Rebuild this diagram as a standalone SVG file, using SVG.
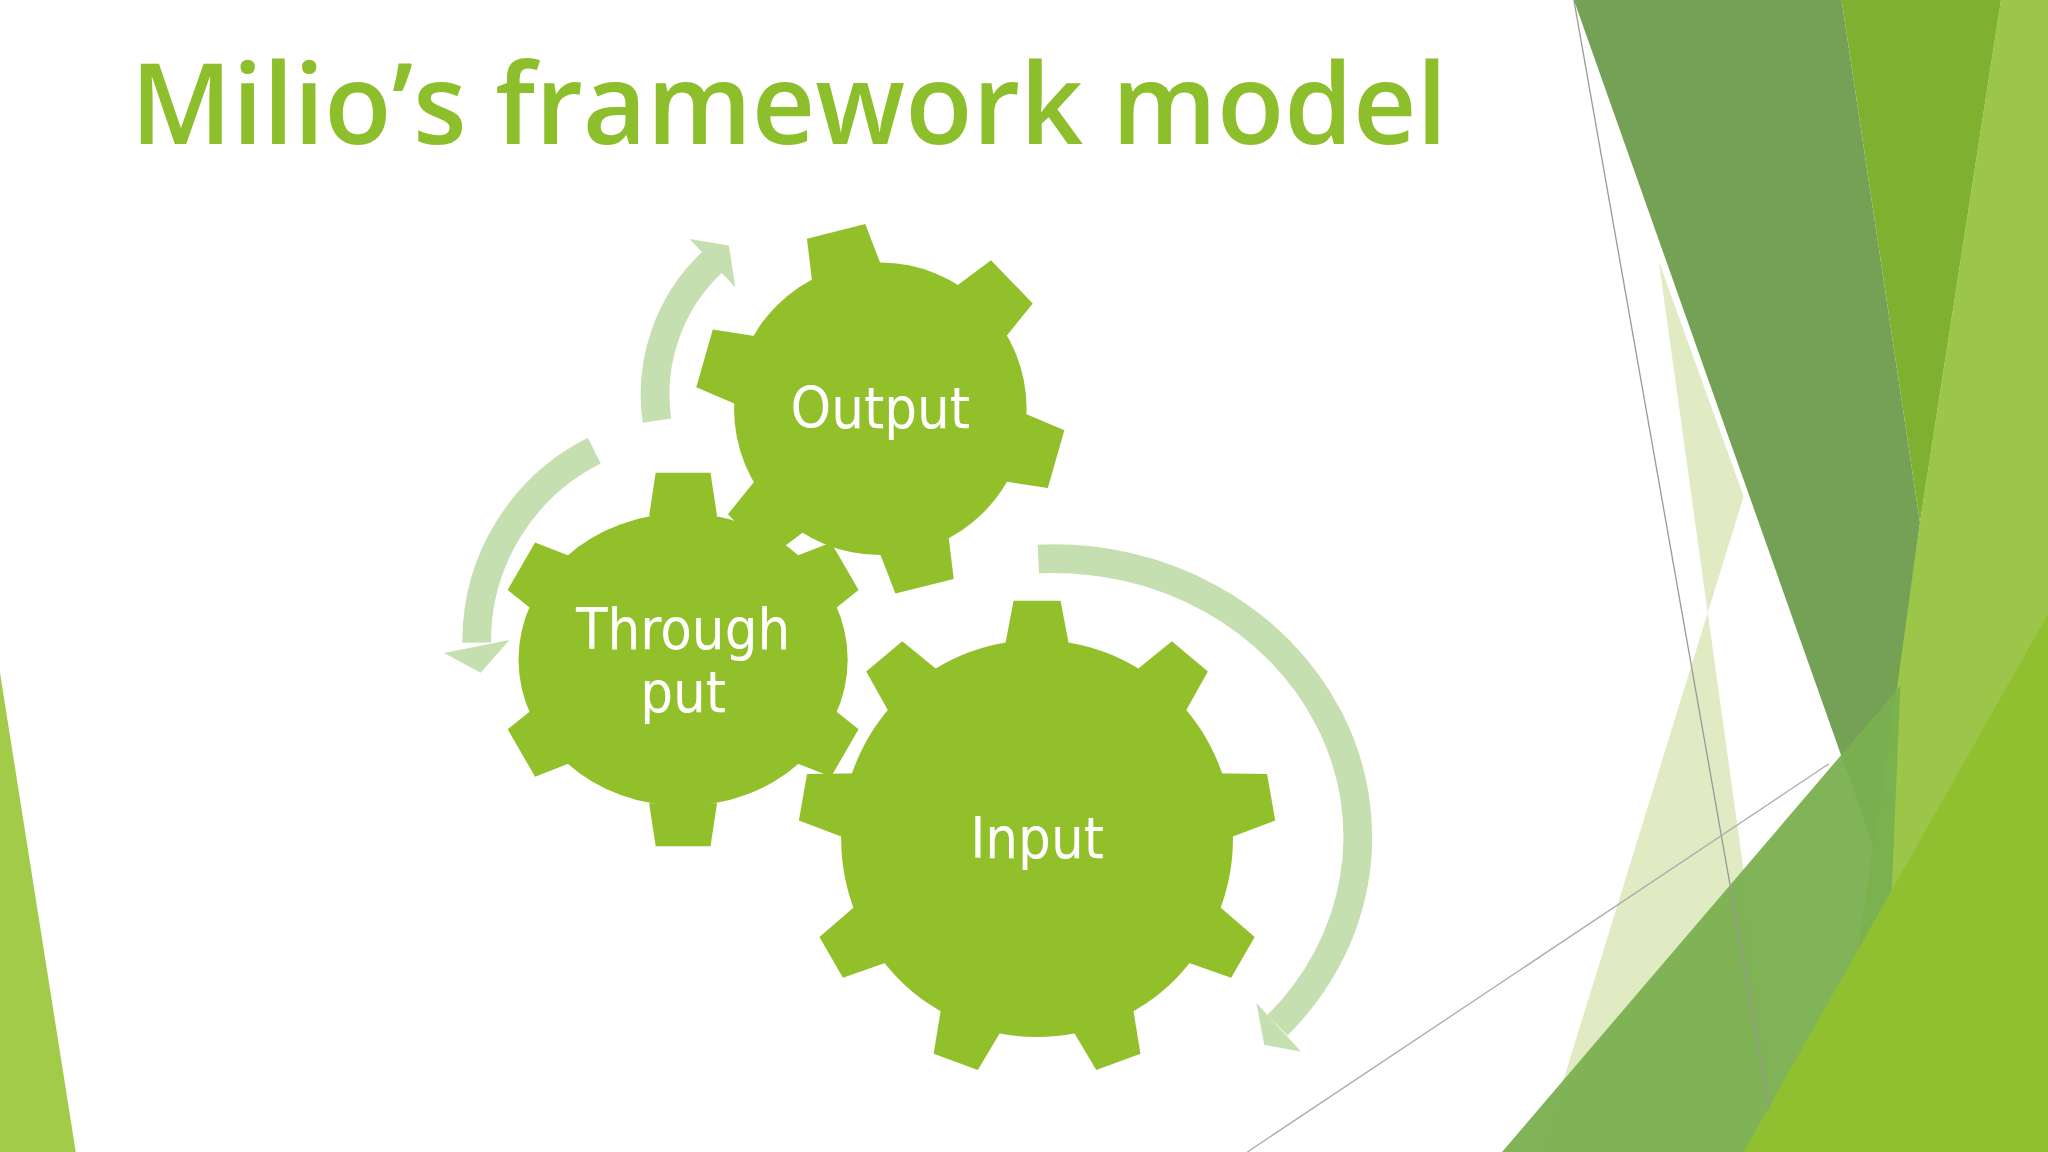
<svg xmlns="http://www.w3.org/2000/svg" width="2048" height="1152" viewBox="0 0 2048 1152">
<style>
.gear{fill:#92c02a}
.lbl{fill:#fff;font-family:"DejaVu Sans Condensed","Noto Sans",sans-serif;font-size:44px;text-anchor:middle}
.arc{fill:none;stroke:#c5dfb0;stroke-width:22}
.head{fill:#c5dfb0}
</style>
<defs>
<polygon id="tT" points="110,-26 143,-21 143,21 110,26"/>
<polygon id="tO" points="100,-28 140,-23 140,23 100,28"/>
<polygon id="tI" points="140,-26 182,-18 182,18 140,26"/>
</defs>
<rect width="2048" height="1152" fill="#fff"/>
<g transform="scale(1.30612)">
<g id="background">
<polygon points="0,515 58,882 0,882" fill="#a3cb4a"/>
<polygon points="1270,200 1335,380 1180,882 1365,882" fill="#e0ebc4"/>
<polygon points="1532,0 1568,0 1568,882 1400,882 1470,400" fill="#9cc64a"/>
<polygon points="1205,0 1410,0 1470,400 1435,650" fill="#6d9c4c" opacity="0.95"/>
<polygon points="1410,0 1532,0 1470,400" fill="#7fb030"/>
<polygon points="1150,882 1455,525 1440,882" fill="#7ab050" opacity="0.95"/>
<polygon points="1335,882 1568,470 1568,882" fill="#90c030"/>
<line x1="1205" y1="0" x2="1355" y2="850" stroke="#999" stroke-width="1"/>
<line x1="955" y1="882" x2="1400" y2="585" stroke="#aaa" stroke-width="1"/>
</g>
<text x="100" y="110" font-family="Open Sans,DejaVu Sans Condensed,sans-serif" font-weight="600" font-size="86" fill="#8dbf2d" textLength="1008" lengthAdjust="spacingAndGlyphs">Milio’s framework model</text>
<g id="connectors">
<path class="arc" d="M503,322 A139,139 0 0 1 546,200"/>
<polygon class="head" points="528,183 558,188 563,220"/>
<path class="arc" d="M455,345 A163,163 0 0 0 365,492"/>
<polygon class="head" points="340,500 368,515 390,490"/>
<path class="arc" d="M795,428 A233,213 0 0 1 978,785"/>
<polygon class="head" points="962,768 968,800 996,805"/>
</g>
<g id="throughput" class="gear" transform="translate(523,505)">
<ellipse rx="126" ry="112"/>
<use href="#tT" transform="rotate(-90)"/><use href="#tT" transform="rotate(-30)"/><use href="#tT" transform="rotate(30)"/>
<use href="#tT" transform="rotate(90)"/><use href="#tT" transform="rotate(150)"/><use href="#tT" transform="rotate(210)"/>
</g>
<g id="output" class="gear" transform="translate(674,313)">
<circle r="112"/>
<use href="#tO" transform="rotate(-104)"/><use href="#tO" transform="rotate(-44)"/><use href="#tO" transform="rotate(16)"/>
<use href="#tO" transform="rotate(76)"/><use href="#tO" transform="rotate(136)"/><use href="#tO" transform="rotate(196)"/>
</g>
<g id="input" class="gear" transform="translate(794,642)">
<ellipse rx="150" ry="152"/>
<use href="#tI" transform="rotate(-90)"/><use href="#tI" transform="rotate(-50)"/><use href="#tI" transform="rotate(-10)"/>
<use href="#tI" transform="rotate(30)"/><use href="#tI" transform="rotate(70)"/><use href="#tI" transform="rotate(110)"/>
<use href="#tI" transform="rotate(150)"/><use href="#tI" transform="rotate(190)"/><use href="#tI" transform="rotate(230)"/>
</g>
<text class="lbl" x="674" y="328">Output</text>
<text class="lbl" x="523" y="497">Through</text>
<text class="lbl" x="523" y="545">put</text>
<text class="lbl" x="794" y="657">Input</text>
</g>
</svg>
